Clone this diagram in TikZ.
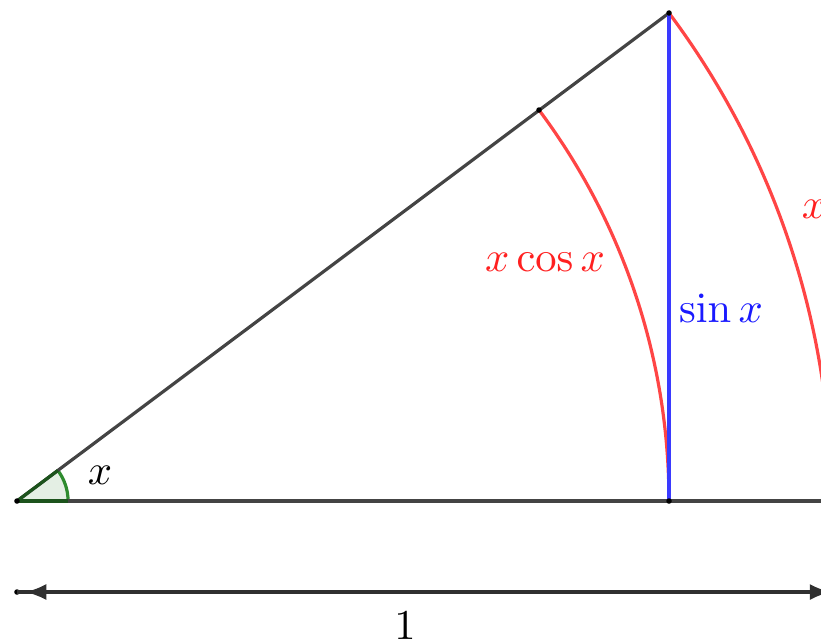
\documentclass[tikz,border=0pt]{standalone}
\usetikzlibrary{arrows.meta}
\definecolor{lgray}{HTML}{444444}
\definecolor{lred}{HTML}{FF4545}
\definecolor{tred}{HTML}{FF2020}
\definecolor{lblue}{HTML}{3A3AFF}
\definecolor{tblue}{HTML}{1A1AFF}
\definecolor{agreen}{HTML}{2E8B2E}
\definecolor{afill}{HTML}{E4EFE4}
\tikzset{
  seg/.style={draw=lgray, line width=0.75pt},
  redarc/.style={draw=lred, line width=0.75pt},
  bluel/.style={draw=lblue, line width=0.75pt},
  pt/.style={circle, fill=black, inner sep=0pt, minimum size=1.3pt},
  lab/.style={inner sep=0pt}
}
\begin{document}
\begin{tikzpicture}[x={(0.235pt,0)}, y={(0,-0.235pt)}]
\useasboundingbox (0,0) rectangle (821,642);
\clip (0,0) rectangle (821,642);
\coordinate (O) at (17,501);
\coordinate (P) at (669,13);
\coordinate (Q) at (539,110);
\coordinate (F) at (669,501);
\coordinate (E) at (831,501);
\coordinate (A) at (17,592);
\coordinate (B) at (831,592);
% angle sector
\fill[afill] (O) -- ++(0:12pt) arc[start angle=0, end angle=36.8, radius=12pt] -- cycle;
\draw[agreen, line width=0.75pt] (O) ++(0:12pt) arc[start angle=0, end angle=36.8, radius=12pt];
% main lines
\draw[seg] (O) -- (E);
\draw[seg] (O) -- (P);
% red arcs
\draw[redarc] (Q) arc[start angle=36.8, end angle=0, radius=153.2pt];
\draw[redarc] (P) arc[start angle=36.8, end angle=0, radius=191.4pt];
% blue line
\draw[bluel] (P) -- (F);
% green edges over gray
\draw[agreen!60!black, line width=0.75pt] (O) -- ++(0:12pt);
\draw[agreen!60!black, line width=0.75pt] (O) -- ++(36.8:12pt);
% points
\node[pt] (o) at (O) {};
\node[pt] (p) at (P) {};
\node[pt] (q) at (Q) {};
\node[pt] (f) at (F) {};
% arrow
\node[pt] (a) at (A) {};
\draw[lgray!70!black, line width=0.75pt] (a.center) -- (B);
\draw[lgray!70!black, line width=0.75pt, {Latex[length=5pt,width=3.8pt]}-{Latex[length=5pt,width=3.8pt]}] ([xshift=1.9pt]A) -- (B);
% labels
\node[lab] (lx) at (100,475) {$x$};
\node[lab, text=tred] (lxc) at (545,262) {$x\cos x$};
\node[lab, text=tblue] (ls) at (721,308) {$\sin x$};
\node[lab, text=tred] (lxo) at (814,209) {$x$};
\node[lab] (l1) at (405,626) {$1$};
\end{tikzpicture}
\end{document}
